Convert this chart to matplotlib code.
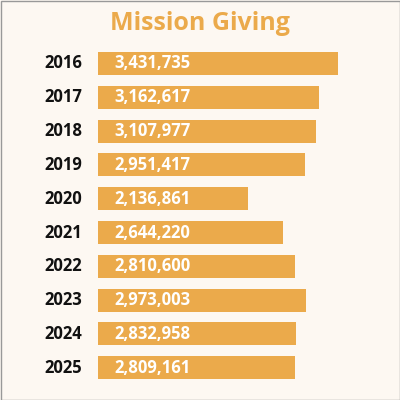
import matplotlib
matplotlib.use("Agg")
import matplotlib.pyplot as plt
from matplotlib.patches import Rectangle

years = ["2016", "2017", "2018", "2019", "2020", "2021", "2022", "2023", "2024", "2025"]
values = [3431735, 3162617, 3107977, 2951417, 2136861, 2644220, 2810600, 2973003, 2832958, 2809161]

bar_color = "#EBAA4B"
bg = "#FDF8F2"

fig = plt.figure(figsize=(4, 4), dpi=100, facecolor=bg)
W, H = 400, 400
left, right = 98, 390
top, bottom = 46.6, 384.6
ax = fig.add_axes([left / W, 1 - bottom / H, (right - left) / W, (bottom - top) / H])
ax.set_facecolor(bg)
scale = 7.0e-5
ax.set_xlim(0, (right - left) / scale)
ax.set_ylim(len(years) - 0.5, -0.5)
pos = list(range(len(years)))
ax.barh(pos, values, height=0.68, color=bar_color, edgecolor="none")
xmax = ax.get_xlim()[1]
for i, (y, v) in enumerate(zip(years, values)):
    ax.text(16 / (right - left) * xmax, i, f"{v:,}", color="white",
            fontsize=12, fontweight="bold", family="Open Sans", va="center", ha="left")
    ax.text(-16 / (right - left) * xmax, i, y, color="#111111",
            fontsize=12, fontweight="bold", family="Open Sans", va="center", ha="right")
for s in ax.spines.values():
    s.set_visible(False)
ax.set_xticks([])
ax.set_yticks([])

fig.text(0.5, 1 - 23 / H, "Mission Giving", color=bar_color, fontsize=18,
         fontweight="bold", family="Open Sans", ha="center", va="center")
fig.patches.append(Rectangle((0.5 / W, 0.5 / H), 1 - 1 / W, 1 - 1 / H, transform=fig.transFigure,
                             fill=False, edgecolor="#999999", linewidth=1))
fig.savefig("out.png", dpi=100, facecolor=bg)
